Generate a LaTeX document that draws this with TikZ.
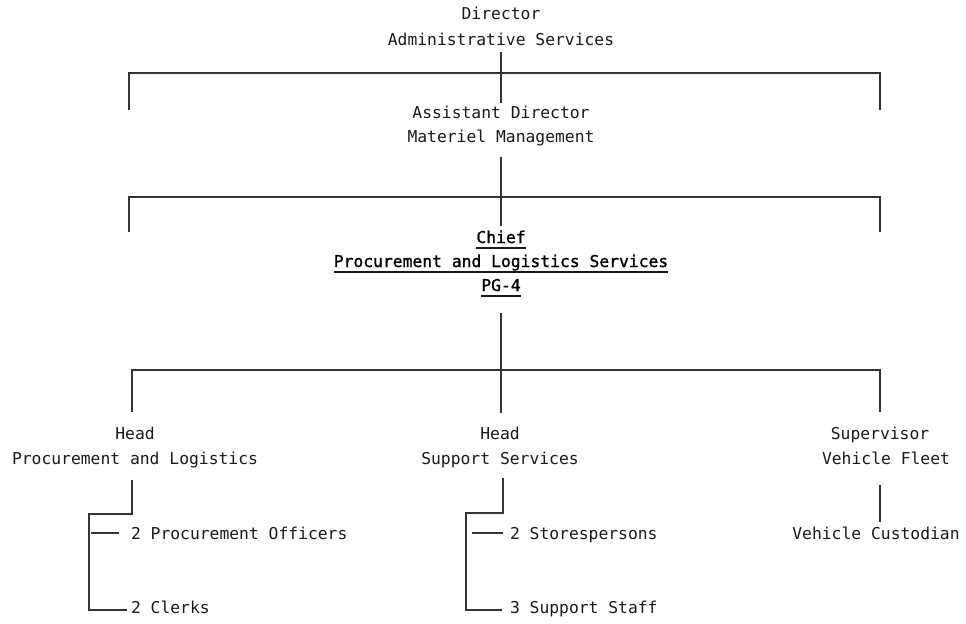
\documentclass[tikz,border=0pt]{standalone}
\usepackage{fontspec}
\setmainfont{DejaVu Sans Mono}
\newfontfamily\txtfont{DejaVu Sans Mono}
\newfontfamily\chieffont[FakeBold=1.2]{DejaVu Sans Mono}
\begin{document}
\begin{tikzpicture}[x=0.02cm,y=-0.02cm,
  every node/.style={inner sep=0pt, outer sep=0pt, font=\txtfont\fontsize{9.3}{11}\selectfont, text=black!90},
  chieftxt/.style={font=\chieffont\fontsize{9.3}{11}\selectfont, text=black},
  ln/.style={line width=1pt, draw=black!80},
  ul/.style={line width=1.1pt, draw=black!90}]
\useasboundingbox (0,0) rectangle (966,623);

% ---- text nodes (anchor = base) ----
\node[anchor=base] (dir1) at (501,19) {Director};
\node[anchor=base] (dir2) at (501,45) {Administrative Services};
\node[anchor=base] (ad1) at (501,118) {Assistant Director};
\node[anchor=base] (ad2) at (501,142) {Materiel Management};
\node[anchor=base, chieftxt] (ch1) at (501,243) {Chief};
\node[anchor=base, chieftxt] (ch2) at (501,267) {Procurement and Logistics Services};
\node[anchor=base, chieftxt] (ch3) at (501,291) {PG-4};
\node[anchor=base] (h1a) at (135,439) {Head};
\node[anchor=base] (h1b) at (135,464) {Procurement and Logistics};
\node[anchor=base] (h2a) at (500,439) {Head};
\node[anchor=base] (h2b) at (500,464) {Support Services};
\node[anchor=base] (h3a) at (880,439) {Supervisor};
\node[anchor=base] (h3b) at (886,464) {Vehicle Fleet};
\node[anchor=base] (vc) at (876,539) {Vehicle Custodian};
\node[anchor=base west] (po) at (131,539) {2 Procurement Officers};
\node[anchor=base west] (cl) at (131,613) {2 Clerks};
\node[anchor=base west] (st) at (510,539) {2 Storespersons};
\node[anchor=base west] (ss) at (510,613) {3 Support Staff};

% ---- underlines ----
\foreach \n in {ch1,ch2,ch3}
  \draw[ul] ([yshift=-2.6pt]\n.base west) -- ([yshift=-2.6pt]\n.base east);

% ---- level 1 ----
\coordinate (v1a) at (501,52);
\coordinate (v1b) at (501,103);
\draw[ln] (v1a) -- (v1b);
\coordinate (b1l) at (129,110);
\coordinate (b1r) at (880,110);
\draw[ln] (b1l) -- (b1l |- 0,73) -- (b1r |- 0,73) -- (b1r);

% ---- level 2 ----
\coordinate (v2a) at (501,157);
\coordinate (v2b) at (501,226);
\draw[ln] (v2a) -- (v2b);
\coordinate (b2l) at (129,232);
\coordinate (b2r) at (880,232);
\draw[ln] (b2l) -- (b2l |- 0,197) -- (b2r |- 0,197) -- (b2r);

% ---- level 3 ----
\coordinate (v3a) at (501,313);
\coordinate (v3b) at (501,413);
\draw[ln] (v3a) -- (v3b);
\coordinate (b3l) at (132,412);
\coordinate (b3r) at (880,412);
\draw[ln] (b3l) -- (b3l |- 0,370) -- (b3r |- 0,370) -- (b3r);

% ---- left group ----
\coordinate (l0) at (132,480);
\coordinate (l1) at (132,514);
\coordinate (l2) at (89,514);
\coordinate (l3) at (89,610);
\draw[ln] (l0) -- (l1) -- (l2) -- (l3) -- (127,610);
\draw[ln] (91,533) -- (119,533);

% ---- middle group ----
\coordinate (m0) at (503,478);
\coordinate (m1) at (503,513);
\coordinate (m2) at (466,513);
\coordinate (m3) at (466,610);
\draw[ln] (m0) -- (m1) -- (m2) -- (m3) -- (502,610);
\draw[ln] (472,533) -- (503,533);

% ---- right group ----
\coordinate (r0) at (880,485);
\coordinate (r1) at (880,522);
\draw[ln] (r0) -- (r1);
\end{tikzpicture}
\end{document}
